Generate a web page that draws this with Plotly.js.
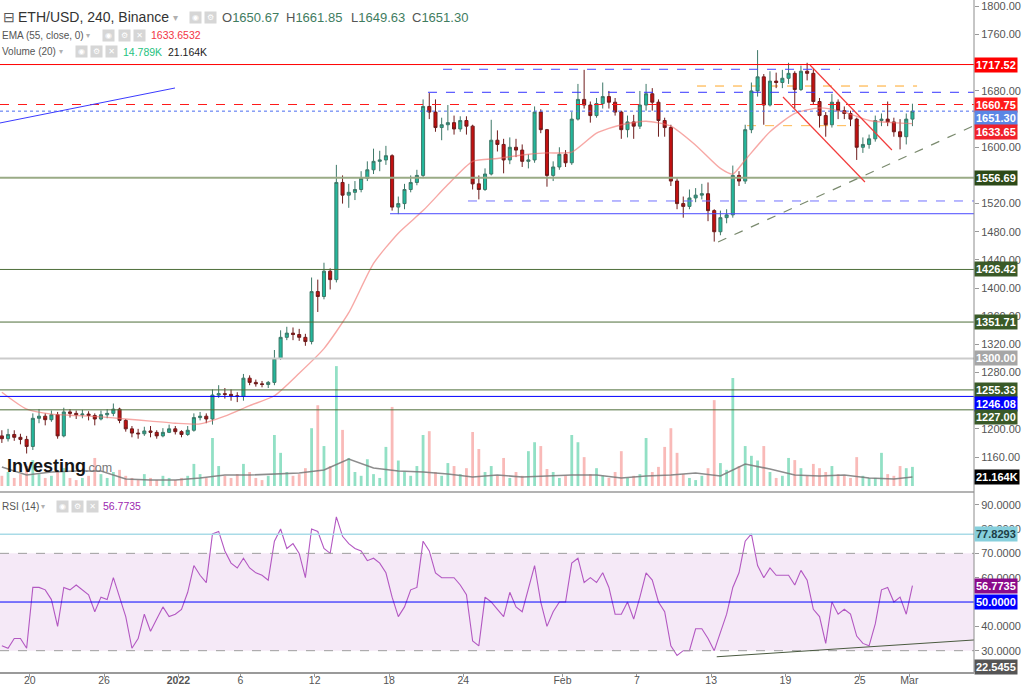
<!DOCTYPE html>
<html><head><meta charset="utf-8">
<script src="https://cdn.plot.ly/plotly-3.0.1.min.js"></script>
<style>html,body{margin:0;padding:0;background:#fff}#c{width:1024px;height:688px}</style>
</head><body><div id="c"></div>
<script>
// ---- data (12h bars, ETH/USD) ----
const firstBar = '2021-12-17T18:00:00Z';
const barHours = 12;
const open = [
1190,1186,1192,1188,1185,1175,1215,1218,1213,1220,
1190,1224,1222,1220,1221,1219,1214,1220,1222,1228,
1212,1200,1194,1193,1197,1195,1190,1195,1200,1196,
1192,1198,1216,1218,1214,1248,1250,1249,1247,1246,
1272,1266,1264,1263,1266,1300,1330,1336,1334,1330,
1324,1395,1388,1424,1412,1550,1532,1536,1540,1556,
1568,1580,1582,1588,1515,1520,1540,1550,1560,1658,
1650,1628,1632,1635,1626,1638,1630,1548,1540,1562,
1610,1604,1582,1600,1596,1580,1582,1650,1625,1560,
1572,1590,1578,1640,1668,1660,1645,1662,1672,1664,
1650,1625,1636,1630,1660,1676,1664,1638,1628,1552,
1520,1516,1528,1532,1534,1510,1480,1500,1504,1560,
1552,1625,1680,1700,1660,1694,1692,1698,1705,1682,
1708,1705,1665,1645,1632,1664,1652,1648,1640,1600,
1604,1612,1638,1640,1636,1622,1615,1640];
const close = [
1186,1192,1188,1185,1175,1215,1218,1213,1220,1190,
1224,1222,1220,1221,1219,1214,1220,1222,1228,1212,
1200,1194,1193,1197,1195,1190,1195,1200,1196,1192,
1198,1216,1218,1214,1248,1250,1249,1247,1246,1272,
1266,1264,1263,1266,1300,1330,1336,1334,1330,1324,
1395,1388,1424,1412,1550,1532,1536,1540,1556,1568,
1580,1582,1588,1515,1520,1540,1550,1560,1658,1650,
1628,1632,1635,1626,1638,1630,1548,1540,1562,1610,
1604,1582,1600,1596,1580,1582,1650,1625,1560,1572,
1590,1578,1640,1668,1660,1645,1662,1672,1664,1650,
1625,1636,1630,1660,1676,1664,1638,1628,1552,1520,
1516,1528,1532,1534,1510,1480,1500,1504,1560,1552,
1625,1680,1700,1660,1694,1692,1698,1705,1682,1708,
1705,1665,1645,1632,1664,1652,1648,1640,1600,1604,
1612,1638,1640,1636,1622,1615,1640,1651.30];
const high = [
1198,1200,1198,1193,1190,1222,1228,1222,1226,1224,
1230,1228,1226,1227,1225,1222,1226,1228,1236,1230,
1214,1204,1200,1203,1204,1198,1201,1206,1204,1198,
1204,1222,1224,1222,1256,1262,1258,1256,1252,1278,
1276,1270,1268,1268,1312,1340,1345,1344,1342,1335,
1415,1412,1436,1428,1575,1560,1548,1552,1566,1580,
1598,1595,1602,1590,1530,1548,1560,1568,1668,1677,
1668,1642,1660,1645,1644,1644,1632,1560,1570,1639,
1624,1612,1614,1612,1604,1590,1658,1654,1626,1580,
1600,1596,1650,1690,1710,1665,1670,1692,1680,1670,
1652,1645,1646,1680,1690,1684,1668,1642,1632,1556,
1530,1540,1542,1548,1550,1512,1510,1512,1574,1566,
1632,1692,1738,1704,1708,1706,1710,1720,1708,1716,
1720,1712,1670,1650,1676,1668,1658,1652,1642,1614,
1618,1645,1648,1665,1642,1640,1648,1661.85];
const low = [
1180,1182,1183,1178,1165,1170,1208,1205,1210,1186,
1188,1216,1214,1215,1212,1205,1212,1215,1218,1208,
1196,1188,1186,1190,1188,1186,1188,1194,1192,1188,
1190,1196,1212,1208,1206,1244,1243,1240,1238,1240,
1262,1260,1259,1258,1262,1298,1326,1326,1325,1318,
1320,1366,1384,1398,1408,1520,1514,1525,1536,1552,
1562,1566,1575,1510,1505,1512,1536,1546,1556,1640,
1622,1610,1624,1618,1622,1618,1540,1526,1538,1560,
1594,1563,1576,1586,1572,1570,1578,1620,1544,1552,
1568,1572,1575,1638,1655,1635,1642,1655,1655,1645,
1612,1614,1612,1626,1652,1652,1615,1615,1545,1512,
1500,1512,1522,1526,1495,1466,1475,1492,1500,1545,
1548,1620,1672,1632,1658,1684,1684,1690,1655,1680,
1695,1660,1628,1615,1628,1640,1640,1630,1582,1592,
1598,1608,1630,1630,1615,1597,1604,1630];
const volumeK = [
24,33,19,28,47,61,28,19,24,33,
42,19,14,19,24,66,28,19,33,38,
24,19,14,28,19,14,24,19,14,19,
24,52,28,19,113,47,24,19,28,52,
33,19,14,24,120,78,33,24,28,42,
136,190,94,47,282,132,66,33,24,63,
28,19,92,186,60,33,24,47,120,129,
33,24,54,47,28,42,127,87,33,47,
24,66,19,33,24,82,103,94,40,33,
19,24,120,103,68,28,42,24,19,33,
82,19,24,28,113,33,45,92,136,78,
28,19,14,24,42,202,54,38,254,47,
94,71,60,94,33,19,24,66,61,42,
24,52,42,33,47,28,24,19,68,24,
19,19,78,28,24,47,42,45];
const rsi14 = [
32,31,35,35,31,56,56,55,51,40,
56,55,57,55,53,46,52,51,60,52,
44,31,35,45,38,43,48,44,45,47,
54,65,61,58,78,79,71,66,64,68,
64,62,61,59,75,80,72,74,70,60,
80,79,72,70,85,77,74,72,71,67,
68,66,62,52,44,48,55,56,75,71,
62,60,60,60,57,53,34,32,52,50,
47,44,54,48,46,55,65,50,40,46,
50,50,66,68,58,60,58,62,56,45,
45,50,43,52,62,59,50,46,32,28,
30,30,39,39,35,30,38,45,56,62,
75,78,65,60,64,61,61,61,57,63,
59,47,44,33,50,45,47,45,36,33,
32,41,55,56,50,52,45,56.7735];
const emaBar = [0,4,8,12,16,20,24,28,32,36,40,44,48,52,56,60,64,68,72,76,80,84,88,92,96,100,104,108,112,116,118,120,124,128,132,136,140,144,147];
const ema55 = [1252,1228,1221,1219,1217,1214,1211,1208,1207,1218,1233,1247,1279,1314,1365,1435,1478,1510,1547,1580,1584,1589,1592,1593,1620,1632,1637,1630,1603,1570,1562,1582,1622,1648,1656,1650,1638,1635,1633.65];
const volMaBar = [0,4,8,12,16,20,24,28,32,36,40,44,48,52,56,60,64,68,72,76,80,84,88,92,96,100,104,108,112,116,120,124,128,132,136,140,144,147];
const volMa20K = [44.7,25.9,32.9,35.3,35.3,16.5,14.1,14.1,18.8,25.9,25.9,28.2,30.6,37.6,63.5,42.3,35.3,32.9,28.2,21.2,25.9,21.2,23.5,25.9,25.9,18.8,23.5,25.9,30.6,23.5,51.7,40,25.9,23.5,25.9,18.8,16.5,21.164];
const tickDates = ['2021-12-20','2021-12-26','2022-01-01','2022-01-06','2022-01-12','2022-01-18','2022-01-24','2022-02-01','2022-02-07','2022-02-13','2022-02-19','2022-02-25','2022-03-01'];
const tickLabels = ['20','26','<b>2022</b>','6','12','18','24','Feb','7','13','19','25','Mar'];
// price-scale labels left visible by the badges
const priceTicks = [1160,1200,1280,1320,1360,1400,1440,1480,1520,1600,1680,1760,1800];
const rsiTicks = [30,40,60,70,80,90];
// horizontal levels drawn across the whole chart
const levelPrices = [1717.52,1660.75,1651.30,1556.69,1426.42,1351.71,1300.00,1255.33,1246.08,1227.00];
// partial levels
const segPrices = [1678.1,1710.8,1687.0,1630.7,1523.7,1505.6];
const segStart = ['2022-01-21 03:30','2022-01-22 08:40','2022-02-11 20:40','2022-02-15 21:35','2022-01-24 09:00','2022-01-18 02:00'];
const segEnd = ['2022-03-06 05:14','2022-02-23 09:40','2022-03-01 14:55','2022-02-25 00:00','2022-03-06 05:14','2022-03-06 05:14'];
// trend lines
const blueTrendDates = ['2021-12-17 14:24','2021-12-31 17:25'], blueTrendPrices = [1634.5,1684.2];
const red1Dates = ['2022-02-20 23:30','2022-02-27 14:10'], red1Prices = [1716.9,1596.1];
const red2Dates = ['2022-02-18 19:12','2022-02-25 10:00'], red2Prices = [1671.4,1550.7];
const supportDates = ['2022-02-13 13:30','2022-03-06 05:14'], supportPrices = [1465.4,1630.8];
const rsiTrendDates = ['2022-02-13 10:50','2022-03-06 05:14'], rsiTrendValues = [27.5,34.4];
const rsiLevels = [77.8293, 50];

// ---- build ----
const t0 = Date.parse(firstBar);
const fmt = ms => new Date(ms).toISOString().slice(0,16).replace('T',' ');
const barX = close.map((_, k) => fmt(t0 + k*barHours*3600e3));
const FONT = 'Liberation Sans, Arial, sans-serif';
const W = 974, H = 672;
const px = x => x / W, py = y => 1 - y / H;

const upCol = 'rgba(38,194,140,0.5)', dnCol = 'rgba(240,90,85,0.42)';
const traces = [
 {type:'bar', x:barX, y:volumeK, xaxis:'x', yaxis:'y', width:barHours*3600e3*0.45,
  marker:{color:close.map((c,i)=>c>=open[i]?upCol:dnCol), line:{width:0}}, hoverinfo:'skip'},
 {type:'scatter', mode:'lines', x:volMaBar.map(k=>barX[k]), y:volMa20K, xaxis:'x', yaxis:'y',
  line:{color:'rgba(120,120,120,0.85)', width:1.6}, hoverinfo:'skip'},
 {type:'scatter', mode:'lines', x:emaBar.map(k=>barX[k]), y:ema55, xaxis:'x', yaxis:'y3',
  line:{color:'rgba(242,110,105,0.6)', width:1.4, shape:'spline', smoothing:0.6}, hoverinfo:'skip'},
 {type:'candlestick', x:barX, open:open, high:high, low:low, close:close, xaxis:'x', yaxis:'y3',
  increasing:{line:{color:'#3d7868', width:1}, fillcolor:'#22b89c'},
  decreasing:{line:{color:'#6e1c1c', width:1}, fillcolor:'#c41010'},
  whiskerwidth:0, hoverinfo:'skip'},
 {type:'scatter', mode:'lines', x:barX, y:rsi14, xaxis:'x', yaxis:'y2',
  line:{color:'#b358c2', width:1.1}, hoverinfo:'skip'}
];

const levelStyle = [
 {c:'#ff0000',d:'solid',w:1},{c:'#ff1a1a',d:'dash',w:1},{c:'#4a6cf0',d:'dot',w:1},
 {c:'#9aab86',d:'solid',w:2},{c:'#4e6e3a',d:'solid',w:1},{c:'#4e6e3a',d:'solid',w:1},
 {c:'#cbcbcb',d:'solid',w:2},{c:'#4e6e3a',d:'solid',w:1},{c:'#0000ff',d:'solid',w:1},{c:'#4e6e3a',d:'solid',w:1}];
const segStyle = [
 {c:'#3535ff',d:'dash',l:'above'},{c:'#4545ff',d:'dash',l:'above'},{c:'#ffa726',d:'dash',l:'below'},
 {c:'#ffb74d',d:'dash',l:'below'},{c:'#7272ff',d:'dash',l:'above'},{c:'#4a4aff',d:'solid',l:'above'}];

const shapes = [];
// RSI band
shapes.push({type:'rect', xref:'paper', x0:0, x1:1, yref:'y2', y0:30, y1:70, fillcolor:'rgba(156,39,176,0.1)', line:{width:0}, layer:'below'});
shapes.push({type:'line', xref:'paper', x0:0, x1:1, yref:'y2', y0:70, y1:70, line:{color:'#9e9e9e', width:1, dash:'dash'}});
shapes.push({type:'line', xref:'paper', x0:0, x1:1, yref:'y2', y0:30, y1:30, line:{color:'#9e9e9e', width:1, dash:'dash'}});
shapes.push({type:'line', xref:'paper', x0:0, x1:1, yref:'y2', y0:rsiLevels[0], y1:rsiLevels[0], line:{color:'#a9dbe7', width:1.5}});
shapes.push({type:'line', xref:'paper', x0:0, x1:1, yref:'y2', y0:rsiLevels[1], y1:rsiLevels[1], line:{color:'#0000ff', width:1}});
shapes.push({type:'line', xref:'x', x0:rsiTrendDates[0], x1:rsiTrendDates[1], yref:'y2', y0:rsiTrendValues[0], y1:rsiTrendValues[1], line:{color:'#4a5a40', width:1}});
levelPrices.forEach((p,i)=>shapes.push({type:'line', xref:'paper', x0:0, x1:1, yref:'y3', y0:p, y1:p,
  line:{color:levelStyle[i].c, width:levelStyle[i].w, dash:levelStyle[i].d}, layer:'above'}));
segPrices.forEach((p,i)=>shapes.push({type:'line', xref:'x', x0:segStart[i], x1:segEnd[i], yref:'y3', y0:p, y1:p,
  line:{color:segStyle[i].c, width:1, dash:segStyle[i].d}, layer:segStyle[i].l}));
shapes.push({type:'line', xref:'x', x0:blueTrendDates[0], x1:blueTrendDates[1], yref:'y3', y0:blueTrendPrices[0], y1:blueTrendPrices[1], line:{color:'#3b3bff', width:1}});
shapes.push({type:'line', xref:'x', x0:red1Dates[0], x1:red1Dates[1], yref:'y3', y0:red1Prices[0], y1:red1Prices[1], line:{color:'#f23c3c', width:1.2}});
shapes.push({type:'line', xref:'x', x0:red2Dates[0], x1:red2Dates[1], yref:'y3', y0:red2Prices[0], y1:red2Prices[1], line:{color:'#f23c3c', width:1.2}});
shapes.push({type:'line', xref:'x', x0:supportDates[0], x1:supportDates[1], yref:'y3', y0:supportPrices[0], y1:supportPrices[1], line:{color:'#7a8a6e', width:1.2, dash:'dash'}});
// pane separator and right axis line
shapes.push({type:'line', xref:'paper', x0:0, x1:1, yref:'paper', y0:py(492), y1:py(492), line:{color:'#b3b3b3', width:2}});
shapes.push({type:'line', xref:'paper', x0:1, x1:1, yref:'paper', y0:0, y1:1, line:{color:'#8c8c8c', width:1}});

const ann = [];
function txt(x, y, text, size, color, extra) {
  ann.push(Object.assign({xref:'paper', yref:'paper', x:px(x), y:py(y), xanchor:'left', yanchor:'middle',
    text:text, showarrow:false, font:{family:FONT, size:size, color:color}, borderpad:0}, extra||{}));
}
function icon(x, y, g) {
  ann.push({xref:'paper', yref:'paper', x:px(x), y:py(y), xanchor:'left', yanchor:'middle', text:g, showarrow:false,
    font:{family:'DejaVu Sans', size:8, color:'#ffffff'}, bgcolor:'#d6d6d6', width:11, height:11, borderpad:0});
}
function badge(yref, val, text, bg, fg, ys) {
  ann.push({xref:'paper', x:1, xanchor:'left', yref:yref, y:val, yanchor:'middle', yshift:ys||0,
    text:'<b>'+text+'</b>', showarrow:false, font:{family:FONT, size:11, color:fg}, bgcolor:bg, borderpad:1});
}
// header
txt(2, 17, '⊟', 14, '#555');
txt(17, 17, 'ETH/USD, 240, Binance', 14, '#333');
txt(172, 17, '▾', 10, '#b0b0b0');
icon(189, 17, '◉'); icon(204, 17, '⚙');
const G = v => "<span style='color:#3f7d5f'>"+v+"</span>";
txt(221, 17, 'O'+G('1650.67'), 13, '#555');
txt(285, 17, 'H'+G('1661.85'), 13, '#555');
txt(350, 17, 'L'+G('1649.63'), 13, '#555');
txt(411, 17, 'C'+G('1651.30'), 13, '#555');
txt(1, 35, 'EMA (55, close, 0)', 10, '#555');
txt(85, 35, '▾', 8, '#b0b0b0');
icon(102, 35, '◉'); icon(118, 35, '⚙'); icon(133, 35, '✕');
txt(150, 35, '1633.6532', 10.5, '#f23645');
txt(1, 52, 'Volume (20)', 10, '#555');
txt(58, 52, '▾', 8, '#b0b0b0');
icon(75, 52, '◉'); icon(90, 52, '⚙'); icon(105, 52, '✕');
txt(122, 52, '14.789K', 10.5, '#26c281');
txt(167, 52, '21.164K', 10.5, '#222');
txt(1, 506, 'RSI (14)', 10, '#555');
txt(40, 506, '▾', 8, '#b0b0b0');
icon(56, 506, '◉'); icon(71, 506, '⚙'); icon(86, 506, '✕');
txt(102, 506, '56.7735', 10.5, '#9c27b0');
// logo
txt(6, 466, '<b>Investing</b>', 18, '#151515');
txt(84, 468, '.com', 12.5, '#777');
// price badges
badge('y3', levelPrices[0], '1717.52', '#ff0000', '#fff');
badge('y3', levelPrices[1], '1660.75', '#ff1a1a', '#fff');
badge('y3', levelPrices[2], '1651.30', '#5b86e5', '#fff', -6.6);
badge('y3', ema55[ema55.length-1], '1633.65', '#f0212b', '#fff', -8.9);
badge('y3', levelPrices[3], '1556.69', '#2d4a18', '#fff');
badge('y3', levelPrices[4], '1426.42', '#3a5a28', '#fff');
badge('y3', levelPrices[5], '1351.71', '#3a5a28', '#fff');
badge('y3', levelPrices[6], '1300.00', '#a6a6a6', '#fff');
badge('y3', levelPrices[7], '1255.33', '#3a5a28', '#fff');
badge('y3', levelPrices[8], '1246.08', '#0000ff', '#fff', -7.3);
badge('y3', levelPrices[9], '1227.00', '#3a5a28', '#fff', -6.9);
badge('y', volMa20K[volMa20K.length-1], '21.164K', '#000000', '#fff');
badge('y2', rsiLevels[0], '77.8293', '#86cfdc', '#1d3e46');
badge('y2', rsi14[rsi14.length-1], '56.7735', '#8b0a8b', '#fff');
badge('y2', rsiLevels[1], '50.0000', '#0000ff', '#fff');
badge('y2', 22.5455, '22.5455', '#555555', '#fff', 2);

const axBase = {showgrid:false, zeroline:false, fixedrange:true};
const layout = {
  width:1024, height:688, margin:{l:0, r:50, t:0, b:16},
  paper_bgcolor:'#ffffff', plot_bgcolor:'#ffffff', showlegend:false, hovermode:false,
  font:{family:FONT, size:11, color:'#555'},
  xaxis:Object.assign({}, axBase, {type:'date', domain:[0,1], anchor:'y2',
    range:['2021-12-17 14:24','2022-03-06 05:14'], rangeslider:{visible:false},
    tickmode:'array', tickvals:tickDates, ticktext:tickLabels, ticks:'outside', ticklen:3, tickcolor:'#999',
    ticklabelstandoff:-5,
    showline:true, linecolor:'#9a9a9a', linewidth:1.5, tickfont:{size:10.5, color:'#555'}}),
  yaxis:Object.assign({}, axBase, {domain:[0.2708,1], range:[-9.4,1143], anchor:'x', visible:false}),
  yaxis3:Object.assign({}, axBase, {overlaying:'y', side:'right', anchor:'x', range:[1113.1,1809.2],
    tickmode:'array', tickvals:priceTicks, tickformat:'.2f', ticks:'outside', ticklen:4, tickcolor:'#999',
    tickfont:{size:11, color:'#555'}, showline:false}),
  yaxis2:Object.assign({}, axBase, {domain:[0,0.2649], anchor:'x', side:'right', range:[21.24,94.4],
    tickmode:'array', tickvals:rsiTicks, tickformat:'.4f', ticks:'outside', ticklen:4, tickcolor:'#999',
    tickfont:{size:11, color:'#555'}, showline:false}),
  shapes:shapes, annotations:ann
};
Plotly.newPlot('c', traces, layout, {staticPlot:true, displayModeBar:false});
</script></body></html>
